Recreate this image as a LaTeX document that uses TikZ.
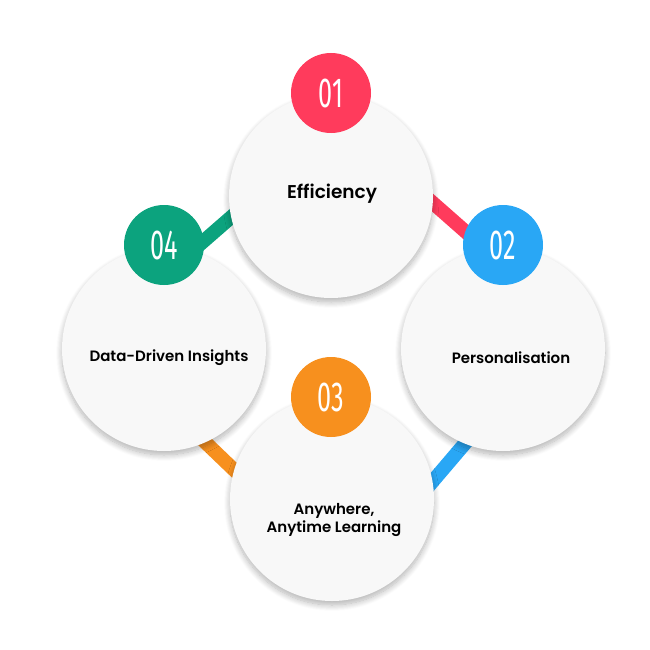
\documentclass[tikz,border=0pt]{standalone}
\usepackage{fontspec}
\setmainfont{Poppins SemiBold}
\newfontfamily\numfont{Fira Sans}
\usetikzlibrary{shadows.blur}
\definecolor{cred}{RGB}{255,59,92}
\definecolor{cblue}{RGB}{41,167,245}
\definecolor{corange}{RGB}{247,144,30}
\definecolor{cgreen}{RGB}{12,163,126}
\definecolor{cfill}{RGB}{248,248,248}
\tikzset{
  bigcircle/.style={circle, minimum size=204pt, inner sep=0pt, fill=cfill,
    blur shadow={shadow blur steps=12, shadow xshift=0pt, shadow yshift=-4pt, shadow opacity=30, shadow blur radius=6pt}},
  badge/.style={circle, minimum size=80pt, inner sep=0pt, fill=#1, text=white,
    font=\numfont\fontsize{42}{42}\selectfont},
  label/.style={font=\fontsize{15}{18.5}\selectfont, text=black, align=center},
  biglabel/.style={label, font=\fontsize{18.5}{22}\selectfont},
  link/.style={line width=14pt, draw=#1},
}
\begin{document}
\begin{tikzpicture}[x=1pt,y=-1pt]
\useasboundingbox (0,0) rectangle (650,650);
% connector endpoints
\coordinate (r1) at (400,174); \coordinate (r2) at (500,262);
\coordinate (g1) at (190,253); \coordinate (g2) at (260,192);
\coordinate (b1) at (490,414); \coordinate (b2) at (410,508);
\coordinate (o1) at (180,418); \coordinate (o2) at (255,490);
\draw[link=cred] (r1) -- (r2);
\draw[link=cgreen] (g1) -- (g2);
\draw[link=cblue] (b1) -- (b2);
\draw[link=corange] (o1) -- (o2);
% big circles
\node[bigcircle] (c1) at (331,196) {};
\node[bigcircle] (c2) at (503,349) {};
\node[bigcircle] (c3) at (332,499) {};
\node[bigcircle] (c4) at (164,349) {};
% labels
\node[biglabel] (t1) at (332,194) {Efficiency};
\node[label] (t2) at (511,358) {Personalisation};
\node[label] (t3) at (334,520) {Anywhere,\\Anytime Learning};
\node[label] (t4) at (169,358) {Data-Driven Insights};
% badges
\node[badge=cred] (n1) at (331,93) {\scalebox{0.6}[1]{01}};
\node[badge=cblue] (n2) at (503,245) {\scalebox{0.6}[1]{02}};
\node[badge=corange] (n3) at (331,397) {\scalebox{0.6}[1]{03}};
\node[badge=cgreen] (n4) at (164,245) {\scalebox{0.6}[1]{04}};
\end{tikzpicture}
\end{document}
